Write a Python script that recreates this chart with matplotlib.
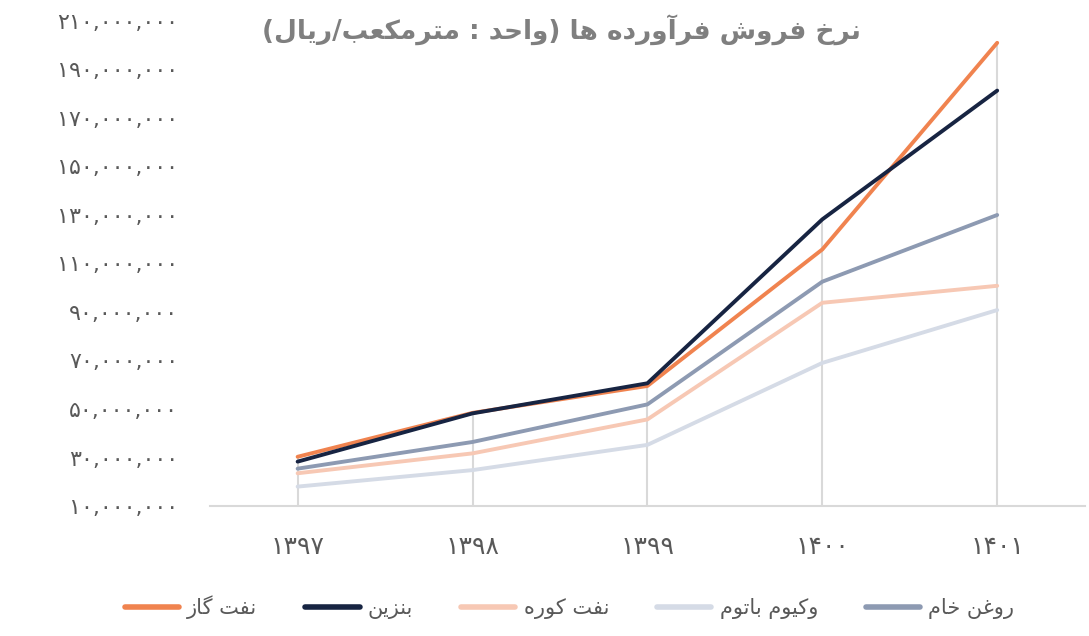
import matplotlib
matplotlib.use("Agg")
import matplotlib.pyplot as plt

# DATA ______________________________________________________________________
years = ["1397", "1398", "1399", "1400", "1401"]
gasoil = [30.3e6, 48.4e6, 59.5e6, 115.8e6, 201.0e6]      # نفت گاز
benzin = [28.3e6, 48.2e6, 60.6e6, 128.2e6, 181.3e6]      # بنزین
kooreh = [23.5e6, 31.7e6, 45.7e6, 93.8e6, 100.8e6]       # نفت کوره
vacuum = [18.0e6, 24.8e6, 35.2e6, 69.0e6, 90.8e6]        # وکیوم باتوم
roghan = [25.4e6, 36.4e6, 51.9e6, 102.5e6, 130.0e6]      # روغن خام
yticks = list(range(10_000_000, 210_000_001, 20_000_000))
# ____________________________________________________________________________

title = "نرخ فروش فرآورده ها (واحد : مترمکعب/ریال)"
names = ["نفت گاز", "بنزین", "نفت کوره", "وکیوم باتوم", "روغن خام"]
colors = ["#F0834F", "#172442", "#F7C8B4", "#D5DBE6", "#8D9AB2"]

# minimal arabic/persian shaping (matplotlib has no complex text layout)
FORMS = {
    'ا': '\uFE8D\uFE8E', 'آ': '\uFE81\uFE82', 'د': '\uFEA9\uFEAA',
    'ر': '\uFEAD\uFEAE', 'ز': '\uFEAF\uFEB0', 'و': '\uFEED\uFEEE',
    'ب': '\uFE8F\uFE90\uFE91\uFE92', 'ت': '\uFE95\uFE96\uFE97\uFE98',
    'ح': '\uFEA1\uFEA2\uFEA3\uFEA4', 'خ': '\uFEA5\uFEA6\uFEA7\uFEA8',
    'ش': '\uFEB5\uFEB6\uFEB7\uFEB8', 'ع': '\uFEC9\uFECA\uFECB\uFECC',
    'غ': '\uFECD\uFECE\uFECF\uFED0', 'ف': '\uFED1\uFED2\uFED3\uFED4',
    'ل': '\uFEDD\uFEDE\uFEDF\uFEE0', 'م': '\uFEE1\uFEE2\uFEE3\uFEE4',
    'ن': '\uFEE5\uFEE6\uFEE7\uFEE8', 'ه': '\uFEE9\uFEEA\uFEEB\uFEEC',
    'ک': '\uFB8E\uFB8F\uFB90\uFB91', 'گ': '\uFB92\uFB93\uFB94\uFB95',
    'ی': '\uFBFC\uFBFD\uFBFE\uFBFF',
}
MIRROR = {'(': ')', ')': '('}


def shape(s):
    out = []
    for i, c in enumerate(s):
        if c not in FORMS:
            out.append(MIRROR.get(c, c))
            continue
        f = FORMS[c]
        prev = s[i - 1] if i > 0 else ''
        nxt = s[i + 1] if i + 1 < len(s) else ''
        jp = prev in FORMS and len(FORMS[prev]) == 4
        jn = len(f) == 4 and nxt in FORMS
        if jp and jn:
            out.append(f[3])
        elif jp:
            out.append(f[1])
        elif jn:
            out.append(f[2])
        else:
            out.append(f[0])
    return ''.join(reversed(out))


def fa_digits(s):
    return s.translate(str.maketrans("0123456789", "۰۱۲۳۴۵۶۷۸۹"))


plt.rcParams['font.family'] = ['DejaVu Sans']

fig = plt.figure(figsize=(10.89, 6.36), dpi=100)
ax = fig.add_axes([0.193, 0.2044, 0.803, 0.7626])

series = [gasoil, benzin, kooreh, vacuum, roghan]
x = list(range(len(years)))

# drop lines up to the highest value of each year
tops = [max(s[i] for s in series) for i in x]
ax.vlines(x, yticks[0], tops, color="#D9D9D9", linewidth=1.5, zorder=1)

order = [3, 2, 4, 0, 1]
handles = {}
for k in order:
    ln, = ax.plot(x, series[k], color=colors[k], linewidth=2.8,
                  solid_capstyle='round', zorder=3, label=shape(names[k]))
    handles[k] = ln

ax.set_xlim(-0.5, len(years) - 0.5)
ax.set_ylim(yticks[0], yticks[-1])
ax.set_yticks(yticks)
ax.set_yticklabels([fa_digits(f"{v:,}") for v in yticks])
ax.set_xticks(x)
ax.set_xticklabels([fa_digits(y) for y in years])
ax.tick_params(axis='y', length=0, pad=23, labelsize=16, labelcolor="#595959")
ax.tick_params(axis='x', length=0, pad=21, labelsize=18, labelcolor="#595959")

for s in ['top', 'right', 'left']:
    ax.spines[s].set_visible(False)
ax.spines['bottom'].set_color("#D9D9D9")
ax.spines['bottom'].set_linewidth(1.5)

fig.text(0.516, 0.953, shape(title), ha='center', va='center',
         fontsize=19, fontweight='bold', color="#7F7F7F")

leg = fig.legend([handles[k] for k in range(5)], [shape(n) for n in names],
                 loc='center', bbox_to_anchor=(0.523, 0.045), ncol=5,
                 frameon=False, fontsize=15, handlelength=2.6,
                 columnspacing=2.3, handletextpad=0.4)
for t in leg.get_texts():
    t.set_color("#595959")
for l in leg.get_lines():
    l.set_linewidth(4)

fig.savefig("out.png", dpi=100)
